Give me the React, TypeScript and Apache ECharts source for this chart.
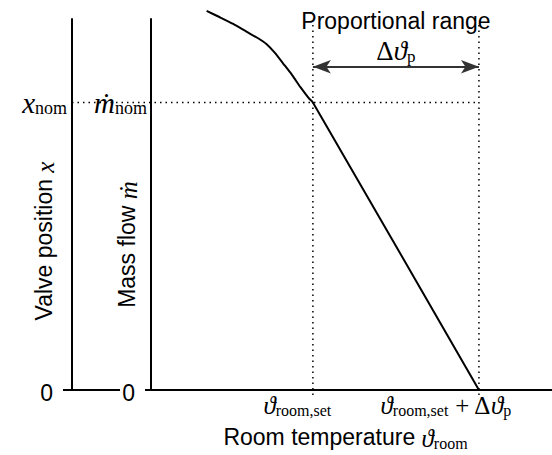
import React, { useEffect, useRef } from 'react';
import * as echarts from 'echarts';

const W = 552;
const H = 455;
const GRID = { left: 151, right: 0, top: 19, bottom: 65 };
const LEFT_AXIS_OFFSET = 79;
const LEFT_BASE_LEN = 48;

// axis domains
const X_MIN = 18.05;
const X_MAX = 22.88;
const Y_MIN = 0;
const Y_MAX = 1.29;

// characteristic values
const T_SET = 20; // room set temperature
const DT_P = 2; // proportional range
const M_NOM = 1; // nominal mass flow / valve position

// characteristic curve (room temperature -> mass flow)
const curveT = [18.72, 18.88, 19.04, 19.2, 19.34, 19.44, 19.54, 19.64, 19.75, 19.85, 19.95, 20.0, 22.0];
const curveM = [1.318, 1.296, 1.273, 1.246, 1.223, 1.203, 1.173, 1.136, 1.095, 1.053, 1.015, 1.0, 0];

// guide line extents
const guideTop = 1.269;
const guideBottom = -0.017;
const arrowLevel = 1.124;

const xTickValues = [T_SET, T_SET + DT_P];
const yTickValues = [0, M_NOM];

const SERIF = "'Liberation Serif', 'DejaVu Serif', serif";
const SANS = "'Liberation Sans', Arial, sans-serif";

const base = { color: '#000', verticalAlign: 'bottom' };
const rich: any = {
  m: { ...base, fontFamily: SERIF, fontStyle: 'italic', fontSize: 25, lineHeight: 28 },
  u: { ...base, fontFamily: SERIF, fontSize: 25, lineHeight: 28 },
  s: { ...base, fontFamily: SERIF, fontSize: 16, lineHeight: 18 },
  M: { ...base, fontFamily: SERIF, fontStyle: 'italic', fontSize: 29, lineHeight: 30 },
  S: { ...base, fontFamily: SERIF, fontSize: 18, lineHeight: 19 },
  dm: { ...base, fontFamily: SERIF, fontStyle: 'italic', fontSize: 27, lineHeight: 29 },
  du: { ...base, fontFamily: SERIF, fontSize: 27, lineHeight: 29 },
  ds: { ...base, fontFamily: SERIF, fontSize: 17, lineHeight: 18 },
  zL: { ...base, fontFamily: SANS, fontSize: 23, lineHeight: 28, padding: [0, 14, 0, 0] },
  zR: { ...base, fontFamily: SANS, fontSize: 23, lineHeight: 28, padding: [0, 12, 0, 0] },
  s1: { ...base, fontFamily: SERIF, fontSize: 16, lineHeight: 18, padding: [0, 31, 0, 0] },
  s2: { ...base, fontFamily: SERIF, fontSize: 16, lineHeight: 18, padding: [0, 66, 0, 0] },
  sx: { ...base, fontFamily: SERIF, fontSize: 16, lineHeight: 18, padding: [0, 12, 0, 0] },
};

export default function App() {
  const ref = useRef<HTMLDivElement>(null);
  useEffect(() => {
    document.body.style.margin = '0';
    const chart = echarts.init(ref.current!, null, { renderer: 'svg' });
    const gridW = W - GRID.left - GRID.right;
    const pxPerUnit = gridW / (X_MAX - X_MIN);
    const titleX = GRID.left + (T_SET + DT_P / 2 - X_MIN) * pxPerUnit;

    const dotted = { color: '#000', width: 1.5, type: [1.5, 4] as any };

    chart.setOption({
      animation: false,
      grid: { ...GRID, containLabel: false, outerBoundsMode: 'none' },
      xAxis: {
        type: 'value',
        min: X_MIN,
        max: X_MAX,
        splitLine: { show: false },
        axisLine: { show: true, lineStyle: { color: '#000', width: 2 } },
        axisTick: { show: false },
        axisLabel: {
          customValues: xTickValues,
          margin: 0,
          formatter: (v: number) =>
            v === T_SET
              ? '{m|ϑ}{s1|room,set}'
              : '{m|ϑ}{s|room,set}{u| + Δ}{m|ϑ}{s2|p}',
          rich,
        },
        name: 'Room temperature {m|ϑ}{sx|room}',
        nameLocation: 'middle',
        nameGap: 33,
        nameMoveOverlap: false,
        nameTextStyle: { fontFamily: SANS, fontSize: 23, color: '#000', rich },
      },
      yAxis: [
        {
          type: 'value',
          min: Y_MIN,
          max: Y_MAX,
          position: 'left',
          splitLine: { show: false },
          axisLine: { show: true, onZero: false, lineStyle: { color: '#000', width: 2 } },
          axisTick: { show: true, customValues: [0], length: 6, lineStyle: { color: '#000', width: 2 } },
          axisLabel: {
            customValues: yTickValues,
            margin: 4,
            formatter: (v: number) => (v === 0 ? '{zR|0}' : '{M|ṁ}{S|nom}'),
            rich,
          },
          name: 'Mass flow {m|ṁ}',
          nameLocation: 'middle',
          nameGap: 10,
          nameMoveOverlap: false,
          nameTextStyle: { fontFamily: SANS, fontSize: 23, color: '#000', padding: [0, 80, 0, 0], rich },
        },
        {
          type: 'value',
          min: Y_MIN,
          max: Y_MAX,
          position: 'left',
          offset: LEFT_AXIS_OFFSET,
          splitLine: { show: false },
          axisLine: { show: true, onZero: false, lineStyle: { color: '#000', width: 2 } },
          axisTick: { show: true, customValues: [0], length: 9, lineStyle: { color: '#000', width: 2 } },
          axisLabel: {
            customValues: yTickValues,
            margin: 5,
            formatter: (v: number) => (v === 0 ? '{zL|0}' : '{M|x}{S|nom}'),
            rich,
          },
          name: 'Valve position {m|x}',
          nameLocation: 'middle',
          nameGap: 14,
          nameMoveOverlap: false,
          nameTextStyle: { fontFamily: SANS, fontSize: 23, color: '#000', padding: [0, 73, 0, 0], rich },
        },
      ],
      series: [
        {
          type: 'line',
          data: curveT.map((t, i) => [t, curveM[i]]),
          smooth: 0.2,
          showSymbol: false,
          clip: false,
          lineStyle: { color: '#000', width: 2 },
          silent: true,
          markLine: {
            silent: true,
            symbol: ['arrow', 'arrow'],
            symbolSize: [10, 18],
            lineStyle: { color: '#333', width: 2, type: 'solid' },
            itemStyle: { color: '#000' },
            label: {
              show: true,
              position: 'middle',
              distance: 2,
              formatter: '{du|Δ}{dm|ϑ}{ds|p}',
              rich,
            },
            data: [[{ coord: [T_SET, arrowLevel] }, { coord: [T_SET + DT_P, arrowLevel] }]],
          },
        },
        {
          type: 'line',
          data: [[T_SET, guideBottom], [T_SET, guideTop]],
          showSymbol: false,
          clip: false,
          silent: true,
          lineStyle: dotted,
        },
        {
          type: 'line',
          data: [[T_SET + DT_P, guideBottom], [T_SET + DT_P, guideTop]],
          showSymbol: false,
          clip: false,
          silent: true,
          lineStyle: dotted,
        },
      ],
    });

    // decorations that run outside the grid, placed through the axes' own scales
    const leftAxisPx = GRID.left - LEFT_AXIS_OFFSET;
    const pNom = chart.convertToPixel({ gridIndex: 0 }, [T_SET + DT_P, M_NOM]) as number[];
    const pZero = chart.convertToPixel({ gridIndex: 0 }, [X_MIN, 0]) as number[];
    chart.setOption({
      graphic: [
        {
          type: 'text',
          x: titleX,
          y: 21,
          silent: true,
          style: {
            text: 'Proportional range',
            fontFamily: SANS,
            fontSize: 23,
            fill: '#000',
            align: 'center',
            verticalAlign: 'middle',
          },
        },
        {
          type: 'line',
          silent: true,
          shape: { x1: leftAxisPx, y1: pNom[1], x2: pNom[0], y2: pNom[1] },
          style: { stroke: '#000', lineWidth: 1.5, lineDash: [1.5, 4] },
        },
        {
          type: 'line',
          silent: true,
          shape: { x1: leftAxisPx, y1: pZero[1], x2: leftAxisPx + LEFT_BASE_LEN, y2: pZero[1] },
          style: { stroke: '#000', lineWidth: 2 },
        },
      ],
    });
    return () => chart.dispose();
  }, []);
  return <div ref={ref} style={{ width: W, height: H }} />;
}
